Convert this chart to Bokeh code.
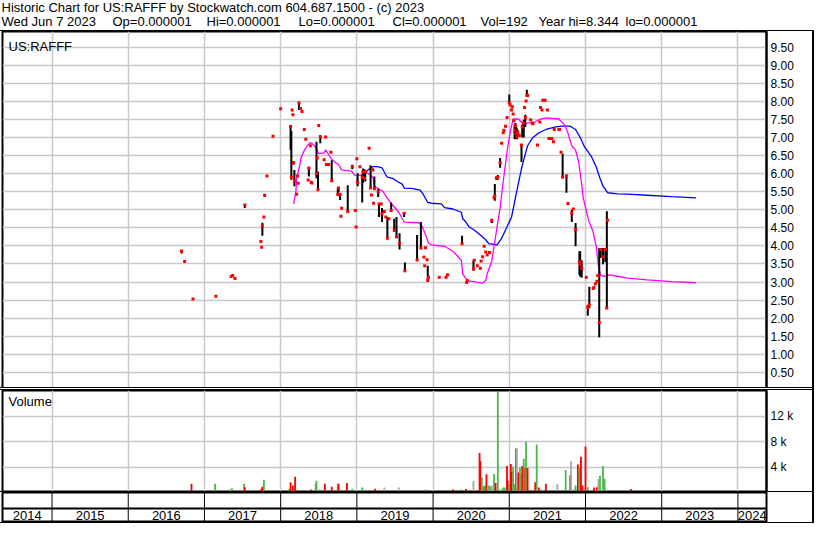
from bokeh.plotting import figure
from bokeh.models import Range1d, FixedTicker, NumeralTickFormatter, ColumnDataSource, Label, Span
from bokeh.layouts import column
from bokeh.embed import file_html
from bokeh.resources import INLINE
from bokeh.core.properties import value

# ---------------- data (time in decimal years) ----------------
HEADER_1 = "Historic Chart for US:RAFFF by Stockwatch.com 604.687.1500 - (c) 2023"
HEADER_2_FIELDS = ["Wed Jun  7 2023", "Op=0.000001", "Hi=0.000001", "Lo=0.000001", "Cl=0.000001",
                   "Vol=192", "Year hi=8.344", "lo=0.000001"]
SYMBOL = "US:RAFFF"
VOLUME_TITLE = "Volume"

X_START, X_END = 2014.35, 2024.375
year_bounds = [2015, 2016, 2017, 2018, 2019, 2020, 2021, 2022, 2023, 2024]
year_labels = ["2014", "2015", "2016", "2017", "2018", "2019", "2020", "2021", "2022", "2023", "2024"]
price_ticks = [0.5, 1.0, 1.5, 2.0, 2.5, 3.0, 3.5, 4.0, 4.5, 5.0, 5.5, 6.0, 6.5, 7.0, 7.5, 8.0, 8.5, 9.0, 9.5]
vol_ticks = [4000, 8000, 12000]
vol_tick_labels = ["4 k", "8 k", "12 k"]

day_t = [2016.70, 2016.74, 2016.85, 2017.15, 2017.35, 2017.37, 2017.40, 2017.53, 2017.74, 2017.75,
         2017.76, 2017.78, 2017.79, 2017.82, 2017.90, 2018.00, 2018.13, 2018.14, 2018.15, 2018.16,
         2018.17, 2018.18, 2018.21, 2018.22, 2018.23, 2018.24, 2018.26, 2018.28, 2018.31, 2018.33,
         2018.36, 2018.37, 2018.39, 2018.40, 2018.41, 2018.47, 2018.48, 2018.49, 2018.50, 2018.52,
         2018.57, 2018.59, 2018.60, 2018.63, 2018.66, 2018.67, 2018.75, 2018.76, 2018.78, 2018.79,
         2018.80, 2018.88, 2018.94, 2018.98, 2018.99, 2019.00, 2019.01, 2019.04, 2019.07, 2019.08,
         2019.10, 2019.11, 2019.16, 2019.18, 2019.19, 2019.21, 2019.22, 2019.23, 2019.28, 2019.29,
         2019.32, 2019.33, 2019.36, 2019.38, 2019.40, 2019.42, 2019.45, 2019.49, 2019.52, 2019.56,
         2019.62, 2019.63, 2019.79, 2019.84, 2019.88, 2019.89, 2019.90, 2019.92, 2019.93, 2019.94,
         2020.08, 2020.17, 2020.19, 2020.27, 2020.38, 2020.39, 2020.44, 2020.45, 2020.53, 2020.54,
         2020.58, 2020.62, 2020.63, 2020.65, 2020.67, 2020.69, 2020.71, 2020.74, 2020.77, 2020.80,
         2020.81, 2020.83, 2020.85, 2020.88, 2020.90, 2020.92, 2020.93, 2020.95, 2020.97, 2021.00,
         2021.01, 2021.03, 2021.04, 2021.05, 2021.06, 2021.07, 2021.08, 2021.09, 2021.10, 2021.11,
         2021.13, 2021.16, 2021.17, 2021.19, 2021.20, 2021.21, 2021.22, 2021.23, 2021.24, 2021.28,
         2021.30, 2021.31, 2021.37, 2021.40, 2021.41, 2021.43, 2021.44, 2021.47, 2021.50, 2021.52,
         2021.54, 2021.56, 2021.58, 2021.59, 2021.65, 2021.66, 2021.68, 2021.70, 2021.75, 2021.77,
         2021.82, 2021.84, 2021.87, 2021.92, 2021.93, 2021.95, 2022.01, 2022.03, 2022.05, 2022.10,
         2022.11, 2022.13, 2022.15, 2022.16, 2022.18, 2022.20, 2022.23, 2022.26, 2022.28, 2022.29,
         2022.61, 2023.43]
day_hi = [3.88, 3.57, 2.53, 2.61, 3.15, 3.18, 3.10, 5.16, 4.12, 3.96,
          4.64, 4.80, 5.43, 5.93, 7.03, 7.79, 7.34, 7.18, 7.76, 7.63,
          6.35, 6.10, 5.43, 5.93, 5.73, 7.99, 7.80, 7.72, 7.22, 6.95,
          5.82, 6.19, 6.77, 5.76, 5.74, 6.88, 6.43, 6.05, 7.33, 7.06,
          6.38, 7.01, 6.25, 6.25, 6.59, 6.37, 5.62, 5.60, 5.43, 4.82,
          5.04, 5.68, 6.22, 4.98, 4.52, 6.41, 6.01, 6.19, 5.98, 6.14,
          6.12, 6.05, 6.70, 6.23, 5.41, 6.14, 5.18, 5.92, 5.58, 5.16,
          5.16, 5.05, 4.95, 4.80, 4.80, 4.75, 5.20, 4.75, 4.80, 4.35,
          4.93, 3.54, 4.30, 4.66, 3.69, 3.45, 3.95, 3.62, 3.45, 3.13,
          3.13, 3.13, 3.20, 0.000001, 4.28, 0.000001, 2.99, 3.04, 3.60, 3.60,
          3.45, 3.38, 3.58, 3.70, 3.99, 3.83, 3.75, 3.82, 4.75, 5.33,
          5.71, 5.92, 5.96, 6.43, 6.86, 7.13, 7.20, 7.31, 7.55, 8.19,
          7.90, 7.76, 7.85, 7.65, 7.46, 7.36, 7.40, 7.30, 7.25, 7.20,
          7.10, 6.79, 7.36, 7.49, 7.83, 7.63, 8.01, 8.32, 8.16, 7.49,
          7.40, 7.38, 6.82, 7.43, 7.83, 7.76, 8.03, 8.03, 7.76, 6.97,
          6.97, 6.97, 6.88, 7.22, 7.22, 7.22, 6.59, 6.55, 5.94, 5.17,
          4.99, 5.02, 4.63, 3.85, 3.85, 3.60, 3.13, 2.37, 2.87, 2.82,
          2.85, 2.95, 3.02, 3.18, 3.94, 3.94, 3.94, 3.94, 4.96, 4.71,
          0.000001, 0.000001]
day_lo = [3.79, 3.57, 2.53, 2.61, 3.15, 3.18, 3.10, 5.05, 4.12, 3.96,
          4.28, 4.80, 5.36, 5.93, 7.03, 7.79, 6.66, 5.83, 7.76, 7.63,
          6.25, 5.65, 5.43, 5.93, 5.73, 7.76, 7.80, 7.72, 7.22, 6.95,
          5.82, 5.92, 6.77, 5.76, 5.74, 5.87, 6.43, 5.55, 7.33, 6.84,
          6.38, 7.01, 6.25, 6.25, 6.59, 5.78, 5.42, 5.49, 5.27, 4.82,
          5.04, 4.95, 6.12, 4.98, 4.52, 6.41, 5.65, 6.19, 5.20, 5.74,
          5.87, 5.78, 6.70, 5.60, 5.41, 6.10, 5.18, 5.58, 5.35, 4.80,
          5.16, 4.66, 4.95, 4.80, 4.21, 4.75, 4.98, 4.39, 4.21, 3.90,
          4.80, 3.31, 3.61, 3.94, 3.69, 3.45, 3.95, 3.62, 3.00, 3.13,
          3.13, 3.13, 3.20, 0.000001, 4.03, 0.000001, 2.99, 3.04, 3.31, 3.60,
          3.45, 3.38, 3.58, 3.70, 3.99, 3.83, 3.75, 3.82, 4.63, 5.33,
          5.25, 5.83, 5.83, 6.16, 6.82, 7.13, 7.20, 7.31, 7.55, 7.96,
          7.90, 7.76, 7.85, 7.65, 7.46, 6.95, 7.00, 6.98, 6.95, 7.00,
          7.02, 6.32, 7.00, 7.00, 7.83, 7.29, 8.01, 8.16, 8.16, 7.49,
          7.40, 7.38, 6.79, 7.43, 7.83, 7.76, 8.03, 8.03, 7.76, 6.97,
          6.97, 6.97, 6.88, 7.22, 7.22, 7.22, 6.59, 5.90, 5.47, 5.17,
          4.66, 5.02, 3.99, 3.20, 3.15, 3.12, 3.13, 2.07, 2.28, 2.82,
          2.85, 2.95, 3.02, 3.18, 1.47, 3.67, 3.49, 3.55, 2.28, 4.71,
          0.000001, 0.000001]
day_cl = [3.86, 3.57, 2.53, 2.61, 3.15, 3.18, 3.10, 5.13, 4.12, 3.96,
          4.55, 4.80, 5.40, 5.93, 7.03, 7.79, 7.30, 5.90, 7.76, 7.63,
          6.30, 5.80, 5.43, 5.93, 5.73, 7.95, 7.80, 7.72, 7.22, 6.95,
          5.82, 6.15, 6.77, 5.76, 5.74, 6.00, 6.43, 5.55, 7.33, 7.02,
          6.38, 7.01, 6.25, 6.25, 6.59, 5.80, 5.42, 5.60, 5.43, 4.82,
          5.04, 4.95, 6.20, 4.98, 4.52, 6.41, 5.75, 6.19, 5.90, 6.05,
          5.87, 6.05, 6.70, 5.60, 5.41, 6.10, 5.18, 5.58, 5.50, 5.16,
          5.16, 4.89, 4.95, 4.80, 4.21, 4.75, 4.98, 4.43, 4.25, 4.08,
          4.90, 3.31, 3.61, 3.94, 3.69, 3.45, 3.95, 3.62, 3.05, 3.13,
          3.13, 3.13, 3.20, 0.000001, 4.06, 0.000001, 2.99, 3.04, 3.37, 3.60,
          3.45, 3.38, 3.58, 3.70, 3.99, 3.83, 3.75, 3.82, 4.70, 5.33,
          5.38, 5.88, 5.90, 6.30, 6.84, 7.13, 7.20, 7.31, 7.55, 7.96,
          7.90, 7.76, 7.85, 7.65, 7.46, 7.20, 7.32, 7.10, 7.02, 7.15,
          7.05, 6.79, 7.29, 7.40, 7.83, 7.55, 8.01, 8.16, 8.16, 7.49,
          7.40, 7.38, 6.79, 7.43, 7.83, 7.76, 8.03, 8.03, 7.76, 6.97,
          6.97, 6.97, 6.88, 7.22, 7.22, 7.22, 6.59, 5.90, 5.94, 5.17,
          4.90, 5.02, 4.45, 3.56, 3.48, 3.38, 3.13, 2.30, 2.37, 2.82,
          2.85, 2.95, 3.02, 3.18, 1.88, 3.90, 3.70, 3.90, 2.28, 4.71,
          0.000001, 0.000001]

ma_fast_t = [2018.17, 2018.20, 2018.21, 2018.25, 2018.27, 2018.31, 2018.35, 2018.39, 2018.42, 2018.46,
             2018.50, 2018.57, 2018.59, 2018.62, 2018.67, 2018.72, 2018.76, 2018.78, 2018.80, 2018.93,
             2018.97, 2019.04, 2019.08, 2019.13, 2019.17, 2019.21, 2019.23, 2019.30, 2019.34, 2019.38,
             2019.44, 2019.55, 2019.62, 2019.81, 2019.85, 2019.89, 2019.94, 2019.98, 2020.15, 2020.26,
             2020.32, 2020.37, 2020.39, 2020.45, 2020.65, 2020.69, 2020.71, 2020.77, 2020.84, 2020.88,
             2020.92, 2020.97, 2021.01, 2021.05, 2021.12, 2021.16, 2021.20, 2021.24, 2021.31, 2021.39,
             2021.48, 2021.65, 2021.72, 2021.76, 2021.82, 2021.87, 2021.91, 2021.95, 2021.97, 2022.04,
             2022.10, 2022.14, 2022.17, 2022.20, 2022.25, 2022.32, 2022.42, 2022.55, 2022.81, 2023.13,
             2023.45]
ma_fast_v = [5.16, 5.51, 5.87, 6.23, 6.46, 6.64, 6.77, 6.86, 6.82, 6.73,
             6.55, 6.57, 6.66, 6.55, 6.40, 6.30, 6.25, 6.18, 6.10, 6.07,
             5.96, 5.95, 5.97, 6.02, 5.98, 5.90, 5.65, 5.56, 5.51, 5.38,
             5.20, 4.93, 4.66, 4.64, 4.57, 4.37, 4.08, 4.03, 3.99, 3.85,
             3.72, 3.60, 3.22, 3.04, 2.97, 3.04, 3.22, 3.58, 4.53, 5.06,
             5.78, 6.59, 7.13, 7.51, 7.51, 7.42, 7.36, 7.40, 7.40, 7.49,
             7.54, 7.51, 7.36, 7.18, 6.77, 6.64, 6.32, 5.70, 5.33, 4.71,
             4.39, 3.99, 3.45, 3.18, 3.16, 3.20, 3.16, 3.11, 3.06, 3.01,
             2.98]

ma_slow_t = [2019.07, 2019.12, 2019.17, 2019.21, 2019.27, 2019.33, 2019.38, 2019.40, 2019.47, 2019.53,
             2019.60, 2019.62, 2019.72, 2019.83, 2019.87, 2019.93, 2019.98, 2020.11, 2020.15, 2020.26,
             2020.37, 2020.39, 2020.43, 2020.47, 2020.54, 2020.62, 2020.69, 2020.73, 2020.84, 2020.90,
             2020.97, 2021.03, 2021.09, 2021.16, 2021.20, 2021.24, 2021.31, 2021.39, 2021.48, 2021.61,
             2021.69, 2021.80, 2021.87, 2021.93, 2021.99, 2022.08, 2022.14, 2022.19, 2022.23, 2022.29,
             2022.42, 2022.55, 2022.81, 2023.13, 2023.45]
ma_slow_v = [5.96, 6.05, 6.14, 6.19, 6.19, 6.16, 5.96, 5.90, 5.87, 5.78,
             5.70, 5.60, 5.59, 5.54, 5.43, 5.20, 5.18, 5.16, 5.06, 5.02,
             4.93, 4.75, 4.66, 4.53, 4.44, 4.30, 4.17, 4.06, 4.03, 4.21,
             4.53, 4.80, 5.43, 6.14, 6.46, 6.77, 7.00, 7.13, 7.22, 7.29,
             7.31, 7.31, 7.22, 7.00, 6.73, 6.46, 6.19, 5.87, 5.65, 5.47,
             5.44, 5.43, 5.40, 5.36, 5.33]

vol_t = [2016.68, 2016.73, 2016.83, 2017.14, 2017.33, 2017.36, 2017.38, 2017.52, 2017.53, 2017.73,
         2017.75, 2017.76, 2017.78, 2017.80, 2017.88, 2018.11, 2018.13, 2018.16, 2018.19, 2018.21,
         2018.22, 2018.24, 2018.27, 2018.28, 2018.30, 2018.34, 2018.36, 2018.39, 2018.40, 2018.46,
         2018.47, 2018.51, 2018.55, 2018.58, 2018.62, 2018.64, 2018.67, 2018.75, 2018.76, 2018.78,
         2018.87, 2018.94, 2018.97, 2019.00, 2019.07, 2019.12, 2019.17, 2019.24, 2019.27, 2019.30,
         2019.36, 2019.38, 2019.41, 2019.48, 2019.55, 2019.60, 2019.79, 2019.86, 2019.88, 2019.90,
         2019.94, 2019.96, 2020.07, 2020.16, 2020.19, 2020.26, 2020.37, 2020.43, 2020.50, 2020.53,
         2020.55, 2020.61, 2020.62, 2020.64, 2020.67, 2020.68, 2020.70, 2020.73, 2020.75, 2020.77,
         2020.80, 2020.82, 2020.85, 2020.87, 2020.89, 2020.91, 2020.92, 2020.94, 2020.97, 2020.98,
         2021.00, 2021.02, 2021.03, 2021.05, 2021.07, 2021.09, 2021.10, 2021.12, 2021.14, 2021.15,
         2021.17, 2021.19, 2021.21, 2021.22, 2021.24, 2021.27, 2021.29, 2021.34, 2021.36, 2021.39,
         2021.42, 2021.46, 2021.48, 2021.51, 2021.57, 2021.63, 2021.69, 2021.74, 2021.80, 2021.81,
         2021.83, 2021.85, 2021.87, 2021.90, 2021.92, 2021.94, 2021.96, 2022.00, 2022.03, 2022.05,
         2022.10, 2022.11, 2022.15, 2022.17, 2022.19, 2022.23, 2022.25, 2022.27, 2022.60, 2023.42]
vol_v = [150, 150, 1380, 1380, 460, 660, 300, 1380, 810, 300,
         570, 920, 2000, 150, 260, 560, 1590, 1080, 2460, 310,
         250, 250, 100, 100, 100, 150, 150, 100, 460, 1430,
         1850, 460, 100, 1380, 250, 100, 920, 1380, 1380, 460,
         1490, 570, 250, 100, 770, 250, 150, 570, 100, 150,
         770, 250, 100, 100, 770, 250, 80, 100, 150, 460,
         150, 100, 100, 80, 80, 460, 460, 560, 250, 1820,
         150, 6200, 4920, 2360, 980, 1080, 2870, 1080, 980, 1080,
         2920, 1490, 15850, 150, 460, 250, 770, 770, 4150, 1850,
         1280, 4460, 3230, 4050, 1280, 6900, 6900, 3130, 3900, 2920,
         4150, 5280, 3850, 8000, 3850, 150, 100, 1590, 7540, 770,
         460, 100, 1380, 100, 250, 1280, 250, 3540, 2720, 4920,
         150, 460, 1080, 4410, 3850, 5590, 1080, 7230, 820, 80,
         150, 770, 820, 2100, 2620, 4150, 2100, 310, 560, 250]
vol_dir = ["u", "d", "d", "u", "u", "u", "d", "u", "d", "d",
           "d", "d", "u", "u", "u", "u", "d", "d", "d", "d",
           "u", "d", "d", "u", "d", "d", "d", "u", "d", "u",
           "u", "u", "d", "d", "n", "u", "d", "u", "d", "u",
           "d", "u", "d", "d", "u", "u", "u", "d", "d", "d",
           "n", "d", "d", "u", "n", "u", "d", "d", "d", "u",
           "d", "d", "n", "n", "u", "d", "u", "d", "u", "n",
           "d", "d", "d", "u", "d", "u", "d", "u", "u", "n",
           "u", "d", "u", "d", "u", "d", "u", "u", "d", "d",
           "u", "d", "d", "u", "u", "d", "n", "d", "u", "u",
           "d", "u", "d", "u", "d", "u", "d", "d", "u", "d",
           "u", "n", "d", "d", "u", "n", "d", "u", "d", "n",
           "d", "u", "u", "d", "u", "d", "d", "d", "u", "d",
           "u", "d", "d", "n", "u", "u", "u", "u", "d", "d"]
dir_colors = {"u": "#4cb84c", "d": "#ff0000", "n": "#a8a8a8"}

# ---------------- layout ----------------
W = 812
FL, FR = 2, 46
FONT = "Liberation Sans"
GRID = "#c8c8c8"
PRICE_H, VOL_H, STRIP_H = 359, 102, 30

xr = Range1d(X_START, X_END)


def make_fig(height, yr, right_axis, styles=None):
    p = figure(width=W, height=height, x_range=xr, y_range=yr,
               output_backend="svg", toolbar_location=None,
               x_axis_location=None, y_axis_location=("right" if right_axis else None),
               min_border_left=FL, min_border_right=FR,
               min_border_top=0, min_border_bottom=0, styles=styles or {})
    p.outline_line_color = "black"
    p.outline_line_width = 2
    p.outline_line_alpha = 1.0
    p.background_fill_color = "white"
    p.border_fill_color = "white"
    p.xgrid.ticker = FixedTicker(ticks=year_bounds)
    p.xgrid.grid_line_color = GRID
    p.xgrid.grid_line_width = 1.5
    p.ygrid.grid_line_color = GRID
    p.ygrid.grid_line_width = 1.5
    if right_axis:
        ax = p.yaxis[0]
        ax.axis_line_color = "black"
        ax.axis_line_width = 2
        ax.major_tick_line_color = None
        ax.minor_tick_line_color = None
        ax.major_tick_out = 0
        ax.major_tick_in = 0
        ax.major_label_standoff = 4
        ax.major_label_text_font = FONT
        ax.major_label_text_font_size = "12px"
        ax.major_label_text_color = "black"
    return p


# header
p0 = figure(width=W + 2, height=30, x_range=Range1d(0, 1), y_range=Range1d(0, 1),
            output_backend="svg", toolbar_location=None,
            x_axis_location=None, y_axis_location=None,
            min_border_left=0, min_border_right=0, min_border_top=0, min_border_bottom=0)
p0.grid.visible = False
p0.outline_line_color = None
p0.add_layout(Label(x=1, y=23, x_units="screen", y_units="screen", text=HEADER_1,
                    text_font=FONT, text_font_size="13px", text_color="black", text_baseline="middle"))
header_x = [1, 112, 206, 298, 392, 480, 538, 625]
for hx, field in zip(header_x, HEADER_2_FIELDS):
    p0.add_layout(Label(x=hx, y=9, x_units="screen", y_units="screen", text=field,
                        text_font=FONT, text_font_size="13px", text_color="black",
                        text_baseline="middle"))

# price panel
p1 = make_fig(PRICE_H, Range1d(0, 9.93), True, {"border-bottom": "3px double black"})
p1.yaxis[0].ticker = FixedTicker(ticks=price_ticks)
p1.yaxis[0].formatter = NumeralTickFormatter(format="0.00")
p1.ygrid.ticker = FixedTicker(ticks=price_ticks)
src = ColumnDataSource(dict(t=day_t, hi=day_hi, lo=day_lo, cl=day_cl))
p1.line(ma_slow_t, ma_slow_v, line_color="#0000ff", line_width=1.3)
p1.line(ma_fast_t, ma_fast_v, line_color="#ff00ff", line_width=1.3)
p1.segment(x0="t", y0="lo", x1="t", y1="hi", source=src, line_color="black", line_width=2)
p1.scatter(x="t", y="cl", source=src, marker="square", size=3, fill_color="#ff0000", line_color=None)
p1.add_layout(Label(x=6, y=PRICE_H - 15, x_units="screen", y_units="screen", text=SYMBOL,
                    text_font=FONT, text_font_size="13px", text_color="black", text_baseline="middle"))

# volume panel
p2 = make_fig(VOL_H, Range1d(0, 16000), True, {"border-bottom": "1px solid black"})
p2.yaxis[0].ticker = FixedTicker(ticks=vol_ticks)
p2.yaxis[0].major_label_overrides = {t: s for t, s in zip(vol_ticks, vol_tick_labels)}
p2.ygrid.ticker = FixedTicker(ticks=vol_ticks)
vsrc = ColumnDataSource(dict(t=vol_t, v=vol_v, c=[dir_colors[d] for d in vol_dir]))
p2.vbar(x="t", top="v", bottom=0, width=0.024, source=vsrc, fill_color="c", line_color=None)
p2.add_layout(Label(x=6, y=VOL_H - 11, x_units="screen", y_units="screen", text=VOLUME_TITLE,
                    text_font=FONT, text_font_size="13px", text_color="black", text_baseline="middle"))

# year strip
p3 = make_fig(STRIP_H, Range1d(0, 30), False)
p3.xgrid.visible = False
p3.ygrid.visible = False
p3.segment(x0=year_bounds, y0=[0] * len(year_bounds), x1=year_bounds, y1=[30] * len(year_bounds),
           line_color="black", line_width=1)
p3.add_layout(Span(location=14, dimension="width", line_color="black", line_width=2))
starts = [X_START] + year_bounds
ends = year_bounds + [X_END]
mids = [(a + b) / 2 for a, b in zip(starts, ends)]
p3.text(x=mids, y=[7] * len(mids), text=year_labels, text_align="center", text_baseline="middle",
        text_font=value(FONT), text_font_size="13px", text_color="black")

chart = column(p1, p2, p3, spacing=0,
               styles={"border-right": "2px solid black", "border-top": "1px solid black",
                       "border-bottom": "1px solid black"})
page = column(p0, chart, spacing=0)

open("out.html", "w").write(file_html(page, INLINE, "Historic Chart for US:RAFFF"))
